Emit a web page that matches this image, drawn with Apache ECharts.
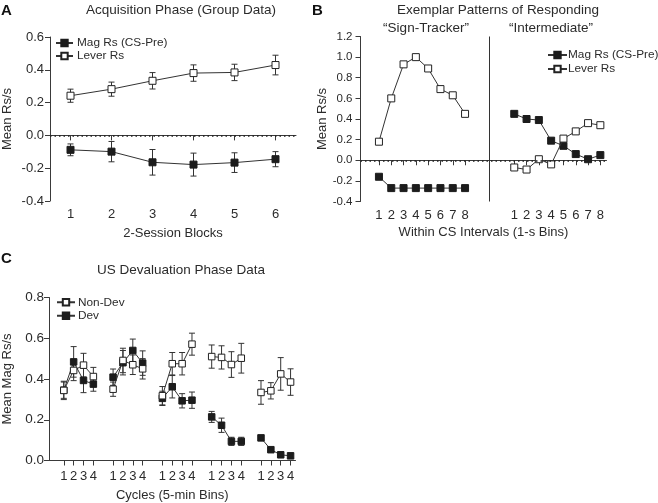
<!DOCTYPE html>
<html>
<head>
<meta charset="utf-8">
<script src="https://cdn.jsdelivr.net/npm/echarts@6/dist/echarts.min.js"></script>
<style>
html,body{margin:0;padding:0;background:#fff;}
#main{width:658px;height:503px;}
</style>
</head>
<body>
<div id="main"></div>
<script>
// ---------- Panel A data ----------
const aBlocks = ['1','2','3','4','5','6'];
const aMag = [-0.088, -0.099, -0.164, -0.178, -0.166, -0.145];
const aMagErr = [0.036, 0.062, 0.078, 0.07, 0.06, 0.046];
const aLever = [0.242, 0.282, 0.333, 0.38, 0.384, 0.429];
const aLeverErr = [0.04, 0.043, 0.05, 0.05, 0.05, 0.06];
const aYTicks = [-0.4, -0.2, 0.0, 0.2, 0.4, 0.6];

// ---------- Panel B data ----------
const bBins = ['1','2','3','4','5','6','7','8'];
const bSignMag = [-0.16, -0.27, -0.27, -0.27, -0.27, -0.27, -0.27, -0.27];
const bSignLever = [0.18, 0.60, 0.93, 1.00, 0.89, 0.69, 0.63, 0.45];
const bInterMag = [0.45, 0.40, 0.39, 0.19, 0.14, 0.06, 0.01, 0.05];
const bInterLever = [-0.07, -0.09, 0.01, -0.04, 0.21, 0.28, 0.36, 0.34];
const bYTicks = [-0.4, -0.2, 0.0, 0.2, 0.4, 0.6, 0.8, 1.0, 1.2];

// ---------- Panel C data ----------
const cBins = ['1','2','3','4'];
const cNonDev = [0.344, 0.442, 0.468, 0.412, 0.350, 0.491, 0.470, 0.450, 0.318, 0.475, 0.475, 0.571, 0.510, 0.506, 0.471, 0.502, 0.334, 0.342, 0.425, 0.385];
const cNonDevErr = [0.045, 0.05, 0.058, 0.045, 0.035, 0.06, 0.048, 0.05, 0.045, 0.055, 0.055, 0.054, 0.057, 0.057, 0.063, 0.073, 0.058, 0.04, 0.08, 0.065];
const cDev = [0.345, 0.484, 0.393, 0.375, 0.409, 0.480, 0.540, 0.478, 0.305, 0.362, 0.293, 0.296, 0.214, 0.173, 0.094, 0.094, 0.111, 0.053, 0.028, 0.023];
const cDevErr = [0.04, 0.075, 0.06, 0.035, 0.04, 0.06, 0.056, 0.06, 0.035, 0.055, 0.035, 0.04, 0.027, 0.035, 0.02, 0.02, 0.01, 0.01, 0.01, 0.01];
const cYTicks = [0.0, 0.2, 0.4, 0.6, 0.8];

// ---------- helpers ----------
const FONT = "'Liberation Sans', Arial, Helvetica, sans-serif";
const INK = '#2b2b2b';
const AX = '#3a3a3a';

// A: categories = blocks
const aCats = aBlocks.map((b, i) => 'a' + i);
const aLabels = aBlocks.slice();

// B: 20 slots: 0 empty, 1-8 sign-tracker, 9 empty, 10 divider, 11 empty, 12-19 intermediate
const bN = 20, bDivider = 10, bLeftStart = 1, bRightStart = 12;
const bCats = Array.from({length: bN}, (_, i) => 'b' + i);
const bLabels = Array(bN).fill('');
bBins.forEach((b, i) => { bLabels[bLeftStart + i] = b; bLabels[bRightStart + i] = b; });
function bLine(left, right) {
  const arr = Array(bN).fill('-');
  left.forEach((v, i) => arr[bLeftStart + i] = v);
  right.forEach((v, i) => arr[bRightStart + i] = v);
  return arr;
}
const bTickSet = new Set();
bBins.forEach((b, i) => { bTickSet.add(bLeftStart + i); bTickSet.add(bRightStart + i); });
bTickSet.add(bDivider);

// C: 5 cycles x 4 bins, stride 5 with gaps
const cGroups = 5, cStride = 5, cN = 25;
const cCats = Array.from({length: cN}, (_, i) => 'c' + i);
const cLabels = Array(cN).fill('');
const cPos = [];
for (let g = 0; g < cGroups; g++) {
  cBins.forEach((b, i) => { const p = g * cStride + i + 1; cPos.push(p); cLabels[p] = b; });
}
const cTickSet = new Set(cPos);
function cLine(vals) {
  const arr = Array(cN).fill('-');
  vals.forEach((v, k) => arr[cPos[k]] = v);
  return arr;
}

function errData(xs, vals, errs) {
  return vals.map((v, i) => [xs[i], v - errs[i], v + errs[i]]);
}
function errRender(params, api) {
  const x = api.value(0), lo = api.value(1), hi = api.value(2);
  const p1 = api.coord([x, lo]), p2 = api.coord([x, hi]);
  const w = 3;
  const st = {stroke: '#333', lineWidth: 1};
  return {type: 'group', children: [
    {type: 'line', shape: {x1: p1[0], y1: p1[1], x2: p2[0], y2: p2[1]}, style: st},
    {type: 'line', shape: {x1: p1[0] - w, y1: p1[1], x2: p1[0] + w, y2: p1[1]}, style: st},
    {type: 'line', shape: {x1: p2[0] - w, y1: p2[1], x2: p2[0] + w, y2: p2[1]}, style: st}
  ]};
}

const openSym = {color: '#ffffff', borderColor: '#222', borderWidth: 1};
const fillSym = {color: '#1c1c1c', borderColor: '#1c1c1c', borderWidth: 1};
const lineSt = {color: '#333', width: 1};

function lineSeries(name, xi, data, open, size) {
  return {
    name, type: 'line', xAxisIndex: xi, yAxisIndex: xi, data,
    symbol: 'rect', symbolSize: size, showSymbol: true,
    itemStyle: open ? openSym : fillSym,
    lineStyle: lineSt, connectNulls: false, silent: true,
    emphasis: {disabled: true}, z: open ? 4 : 3
  };
}

const grids = [
  {left: 49, top: 37, width: 247, height: 164},
  {left: 360.5, top: 36.5, width: 246, height: 165},
  {left: 48, top: 297.5, width: 247.5, height: 163}
];

function yAxis(gi, min, max, name, nameGap, fs, margin, ticks) {
  return {
    gridIndex: gi, type: 'value', min, max, interval: 0.2,
    name, nameLocation: 'middle', nameGap, nameRotate: 90,
    nameTextStyle: {fontFamily: FONT, fontSize: 13, color: INK},
    axisLine: {show: true, lineStyle: {color: AX, width: 1}},
    axisTick: {show: true, length: 5, lineStyle: {color: AX}},
    axisLabel: {fontFamily: FONT, fontSize: fs, color: INK, margin,
      formatter: v => { const t = ticks.find(x => Math.abs(x - v) < 1e-6); return t === undefined ? '' : t.toFixed(1); }},
    splitLine: {show: false}
  };
}
function xAxis(gi, cats, labels, tickSet, name, nameGap, margin) {
  return {
    gridIndex: gi, type: 'category', data: cats, boundaryGap: true,
    name, nameLocation: 'middle', nameGap,
    nameTextStyle: {fontFamily: FONT, fontSize: 13, color: INK},
    axisLine: {show: true, lineStyle: {color: AX, width: 1}},
    axisTick: {show: true, alignWithLabel: true, length: 5, lineStyle: {color: AX},
      interval: (i) => tickSet ? tickSet.has(i) : true},
    axisLabel: {fontFamily: FONT, fontSize: 13, color: INK, margin,
      interval: 0, formatter: (v, i) => labels[i]},
    splitLine: {show: false}
  };
}

const aIdx = aBlocks.map((b, i) => i);

const zeroLine = {
  silent: true, symbol: ['none', 'none'], label: {show: false},
  lineStyle: {type: [1.5, 3], color: '#222', width: 1.5},
  data: [{yAxis: 0}]
};

const legendText = {fontFamily: FONT, fontSize: 11.8, color: INK, lineHeight: 13};

const option = {
  animation: false,
  backgroundColor: '#ffffff',
  textStyle: {fontFamily: FONT},
  grid: grids,
  xAxis: [
    xAxis(0, aCats, aLabels, null, '2-Session Blocks', 26, 7),
    xAxis(1, bCats, bLabels, bTickSet, 'Within CS Intervals (1-s Bins)', 24, 7),
    xAxis(2, cCats, cLabels, cTickSet, 'Cycles (5-min Bins)', 28, 9)
  ],
  yAxis: [
    yAxis(0, -0.4, 0.6, 'Mean Rs/s', 36, 13, 6, aYTicks),
    yAxis(1, -0.4, 1.2, 'Mean Rs/s', 31, 11.5, 8, bYTicks),
    yAxis(2, 0, 0.8, 'Mean Mag Rs/s', 35, 13.5, 5, cYTicks)
  ],
  legend: [
    {data: ['Mag Rs (CS-Pre)', 'Lever Rs'], left: 55, top: 36.5, orient: 'vertical', padding: 0,
     itemWidth: 17, itemHeight: 8, itemGap: 0, selectedMode: false,
     textStyle: Object.assign({}, legendText, {padding: [0, 0, 0, -1]})},
    {data: ['Mag Rs (CS-Pre)', 'Lever Rs'], left: 547, top: 48.5, orient: 'vertical', padding: 0,
     itemWidth: 19, itemHeight: 8, itemGap: 1, selectedMode: false,
     textStyle: Object.assign({}, legendText, {padding: [0, 0, 0, -4]})},
    {data: ['Non-Dev', 'Dev'], left: 56, top: 295.5, orient: 'vertical', padding: 0,
     itemWidth: 18, itemHeight: 8, itemGap: 0, selectedMode: false,
     textStyle: Object.assign({}, legendText, {lineHeight: 13.5, padding: [0, 0, 0, -2]})}
  ],
  graphic: [
    {type: 'text', left: 1, top: 3, style: {text: 'A', font: 'bold 15px ' + FONT, fill: '#111'}},
    {type: 'text', left: 312, top: 3, style: {text: 'B', font: 'bold 15px ' + FONT, fill: '#111'}},
    {type: 'text', left: 1, top: 251, style: {text: 'C', font: 'bold 15px ' + FONT, fill: '#111'}},
    {type: 'text', x: 181, y: 10, style: {text: 'Acquisition Phase (Group Data)', font: '13.5px ' + FONT, fill: INK, align: 'center', verticalAlign: 'middle'}},
    {type: 'text', x: 498, y: 10, style: {text: 'Exemplar Patterns of Responding', font: '13.5px ' + FONT, fill: INK, align: 'center', verticalAlign: 'middle'}},
    {type: 'text', x: 426, y: 28, style: {text: '\u201CSign-Tracker\u201D', font: '13.5px ' + FONT, fill: INK, align: 'center', verticalAlign: 'middle'}},
    {type: 'text', x: 551, y: 28, style: {text: '\u201CIntermediate\u201D', font: '13.5px ' + FONT, fill: INK, align: 'center', verticalAlign: 'middle'}},
    {type: 'text', x: 181, y: 270, style: {text: 'US Devaluation Phase Data', font: '13.5px ' + FONT, fill: INK, align: 'center', verticalAlign: 'middle'}}
  ],
  series: [
    // ---- A ----
    {type: 'custom', xAxisIndex: 0, yAxisIndex: 0, renderItem: errRender, silent: true,
     encode: {x: 0, y: [1, 2]}, data: errData(aIdx, aMag, aMagErr), z: 2},
    {type: 'custom', xAxisIndex: 0, yAxisIndex: 0, renderItem: errRender, silent: true,
     encode: {x: 0, y: [1, 2]}, data: errData(aIdx, aLever, aLeverErr), z: 2},
    Object.assign(lineSeries('Mag Rs (CS-Pre)', 0, aMag, false, 7), {markLine: zeroLine}),
    lineSeries('Lever Rs', 0, aLever, true, 7),
    // ---- B ----
    Object.assign(lineSeries('Mag Rs (CS-Pre)', 1, bLine(bSignMag, bInterMag), false, 7), {
      markLine: {silent: true, symbol: ['none', 'none'], label: {show: false},
        data: [
          {yAxis: 0, lineStyle: {type: [1.5, 3], color: '#222', width: 1.5}},
          {xAxis: bDivider, lineStyle: {type: 'solid', color: '#333', width: 1}}
        ]}
    }),
    lineSeries('Lever Rs', 1, bLine(bSignLever, bInterLever), true, 7),
    // ---- C ----
    {type: 'custom', xAxisIndex: 2, yAxisIndex: 2, renderItem: errRender, silent: true,
     encode: {x: 0, y: [1, 2]}, data: errData(cPos, cDev, cDevErr), z: 2},
    {type: 'custom', xAxisIndex: 2, yAxisIndex: 2, renderItem: errRender, silent: true,
     encode: {x: 0, y: [1, 2]}, data: errData(cPos, cNonDev, cNonDevErr), z: 2},
    lineSeries('Dev', 2, cLine(cDev), false, 6.5),
    lineSeries('Non-Dev', 2, cLine(cNonDev), true, 6.5)
  ]
};

const chart = echarts.init(document.getElementById('main'), null, {renderer: 'canvas'});
chart.setOption(option);
</script>
</body>
</html>
